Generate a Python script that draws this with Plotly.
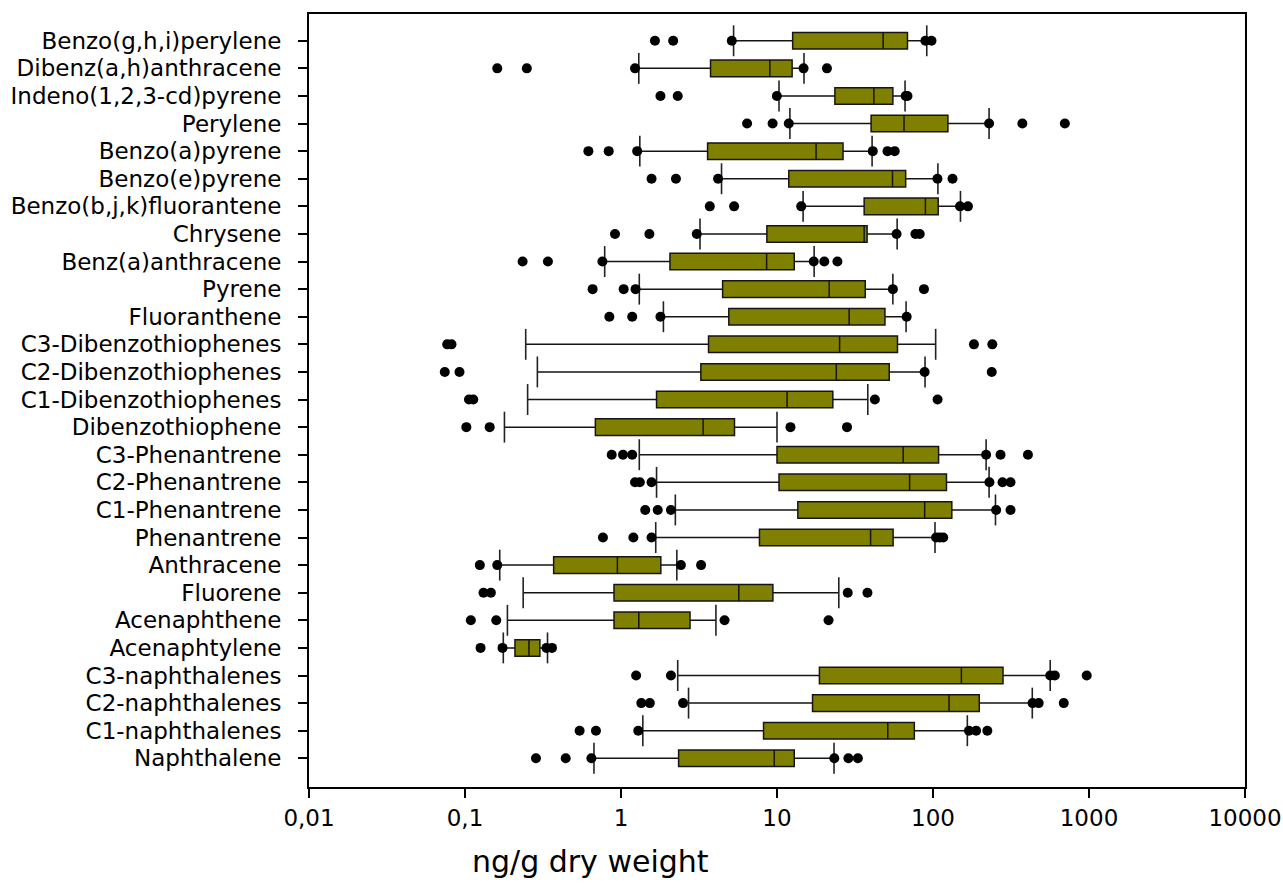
import plotly.graph_objects as go

# PAH concentrations (ng/g dry weight), listed top to bottom
categories = [
    "Benzo(g,h,i)perylene", "Dibenz(a,h)anthracene", "Indeno(1,2,3-cd)pyrene",
    "Perylene", "Benzo(a)pyrene", "Benzo(e)pyrene", "Benzo(b,j,k)fluorantene",
    "Chrysene", "Benz(a)anthracene", "Pyrene", "Fluoranthene",
    "C3-Dibenzothiophenes", "C2-Dibenzothiophenes", "C1-Dibenzothiophenes",
    "Dibenzothiophene", "C3-Phenantrene", "C2-Phenantrene", "C1-Phenantrene",
    "Phenantrene", "Anthracene", "Fluorene", "Acenaphthene", "Acenaphtylene",
    "C3-naphthalenes", "C2-naphthalenes", "C1-naphthalenes", "Naphthalene",
]

whisker_low = [5.27, 1.30, 10.3, 12.1, 1.32, 4.41, 14.7, 3.21, 0.786, 1.31, 1.87,
               0.245, 0.291, 0.252, 0.179, 1.31, 1.69, 2.23, 1.67, 0.167, 0.236,
               0.187, 0.176, 2.31, 2.71, 1.38, 0.671]
q1 = [12.6, 3.75, 23.5, 40.1, 3.59, 11.9, 36.2, 8.61, 2.06, 4.48, 4.91,
      3.64, 3.25, 1.69, 0.685, 10.0, 10.3, 13.6, 7.72, 0.370, 0.902,
      0.902, 0.209, 18.7, 16.9, 8.20, 2.34]
median = [47.9, 9.0, 41.8, 65.2, 17.8, 55.0, 89.4, 36.2, 8.58, 21.6, 29.0,
          25.2, 24.0, 11.6, 3.36, 64.4, 70.8, 88.4, 39.8, 0.948, 5.69,
          1.30, 0.257, 152, 126.7, 51.3, 9.60]
q3 = [68.6, 12.5, 55.3, 124.6, 26.5, 66.8, 108, 37.8, 12.9, 36.8, 49.2,
      59.2, 52.4, 22.8, 5.34, 108.6, 122, 132, 55.5, 1.80, 9.41,
      2.77, 0.302, 281, 198, 75.9, 12.9]
whisker_high = [91.2, 14.9, 66.2, 228.8, 40.7, 107.5, 150, 58.9, 17.3, 55.3, 67.2,
                104, 88.9, 38.2, 10.0, 219, 228.8, 251.5, 103, 2.28, 24.9,
                4.06, 0.338, 564, 433, 166, 23.2]

points_low = [
    [1.65, 2.16, 5.13], [0.161, 0.249, 1.23], [1.79, 2.31, 9.98],
    [6.43, 9.37, 11.9], [0.618, 0.834, 1.27], [1.57, 2.25, 4.19],
    [3.71, 5.31, 14.3], [0.915, 1.52, 3.06], [0.234, 0.340, 0.760],
    [0.658, 1.04, 1.24], [0.842, 1.18, 1.79], [0.0769, 0.0819],
    [0.0742, 0.0922], [0.106, 0.113], [0.102, 0.144],
    [0.872, 1.03, 1.18], [1.23, 1.32, 1.57], [1.43, 1.72, 2.09],
    [0.766, 1.20, 1.57], [0.1245, 0.161], [0.1314, 0.1465],
    [0.109, 0.1586], [0.1258, 0.174], [1.25, 2.09],
    [1.35, 1.53, 2.50], [0.543, 0.691, 1.29], [0.285, 0.442, 0.646],
]
points_high = [
    [89.4, 97.8], [14.8, 20.9], [66.8, 68.6],
    [228.8, 374, 700], [41.1, 51.1, 56.8], [106.8, 133.4],
    [149, 167.5], [58.4, 77.1, 82.2], [17.2, 20.1, 24.4],
    [55.3, 87.5], [67.8], [183, 240],
    [88.4, 238], [42.4, 107], [12.2, 28.1],
    [219, 271, 406], [230, 279, 314], [254, 314],
    [104.6, 110.4, 116.3], [2.42, 3.26], [28.4, 38.0],
    [4.61, 21.4], [0.333, 0.361], [564, 604, 967],
    [435, 476, 689], [170, 189, 223], [23.3, 28.7, 33.0],
]

x_tickvals = [0.01, 0.1, 1, 10, 100, 1000, 10000]
x_ticktext = ["0,01", "0,1", "1", "10", "100", "1000", "10000"]

FONT = "DejaVu Sans, Arial, sans-serif"
n = len(categories)
ypos = [n - 1 - k for k in range(n)]
CAP_HALF = 0.56

fig = go.Figure()

# boxes with median line and whiskers
fig.add_trace(go.Box(
    orientation="h", y=ypos,
    q1=q1, median=median, q3=q3,
    lowerfence=whisker_low, upperfence=whisker_high,
    width=0.6, whiskerwidth=0, boxpoints=False,
    fillcolor="#808000", line=dict(color="#151515", width=1.5),
    showlegend=False, hoverinfo="skip",
))

# whisker caps (vertical bars taller than the boxes)
cap_x, cap_y = [], []
for k, yy in enumerate(ypos):
    for v in (whisker_low[k], whisker_high[k]):
        cap_x += [v, v, None]
        cap_y += [yy - CAP_HALF, yy + CAP_HALF, None]
fig.add_trace(go.Scatter(
    x=cap_x, y=cap_y, mode="lines",
    line=dict(color="#222222", width=1.6),
    showlegend=False, hoverinfo="skip",
))

# outlying points
px_, py_ = [], []
for k, yy in enumerate(ypos):
    for v in points_low[k] + points_high[k]:
        px_.append(v)
        py_.append(yy)
fig.add_trace(go.Scatter(
    x=px_, y=py_, mode="markers",
    marker=dict(color="black", size=10),
    showlegend=False,
))

fig.update_layout(
    width=1283, height=890, autosize=False,
    margin=dict(l=309, r=38, t=14, b=103, autoexpand=False),
    paper_bgcolor="white", plot_bgcolor="white",
    font=dict(family=FONT, color="black"),
    xaxis=dict(
        type="log", range=[-2, 4], automargin=False,
        tickvals=x_tickvals, ticktext=x_ticktext,
        ticks="outside", ticklen=9, tickwidth=1.5, tickcolor="black",
        showline=True, linecolor="black", linewidth=2, mirror=True,
        showgrid=False, zeroline=False,
        tickfont=dict(family=FONT, size=23, color="black"),
    ),
    yaxis=dict(
        range=[-1.04, 26.97], automargin=False,
        tickvals=ypos, ticktext=categories,
        ticks="outside", ticklen=9, tickwidth=1.5, tickcolor="black",
        showline=True, linecolor="black", linewidth=2, mirror=True,
        showgrid=False, zeroline=False,
        ticklabelstandoff=12,
        tickfont=dict(family=FONT, size=23, color="black"),
    ),
    annotations=[dict(
        text="ng/g dry weight", xref="paper", yref="paper",
        x=0.301, y=-0.097, xanchor="center", yanchor="middle",
        showarrow=False, font=dict(family=FONT, size=30, color="black"),
    )],
)

fig.write_html("out.html")
